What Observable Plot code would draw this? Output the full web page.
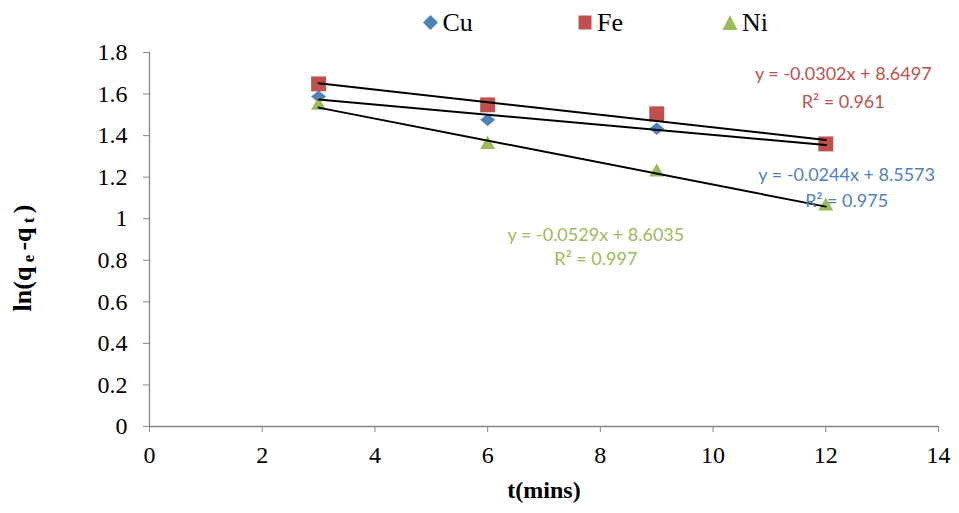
<!DOCTYPE html>
<html><head><meta charset="utf-8">
<script src="https://cdn.jsdelivr.net/npm/d3@7"></script>
<script src="https://cdn.jsdelivr.net/npm/@observablehq/plot@0.6"></script>
<style>
body{margin:0;background:#fff;}
#legend{display:block;}
#chart svg{display:block;}
#chart svg text, #legend text{font-family:'Liberation Serif','Times New Roman',serif !important;}
#chart svg g[aria-label="text"] text{font-family:'Lato',sans-serif !important;}
</style></head><body>
<svg id="legend" width="959" height="40"></svg>
<div id="chart"></div>
<script>
// ---- data ----
const times = [3, 6, 9, 12];
const cuValues = [1.588, 1.476, 1.433, 1.360];
const feValues = [1.649, 1.548, 1.505, 1.360];
const niValues = [1.545, 1.357, 1.224, 1.060];
const seriesNames = ["Cu", "Fe", "Ni"];
const seriesColors = ["#4F81BD", "#C0504D", "#9BBB59"];
const xTicks = [0, 2, 4, 6, 8, 10, 12, 14];
const yTicks = [0, 0.2, 0.4, 0.6, 0.8, 1, 1.2, 1.4, 1.6, 1.8];
const eqTexts = ["y = -0.0244x + 8.5573", "y = -0.0302x + 8.6497", "y = -0.0529x + 8.6035"];
const r2Texts = ["R² = 0.975", "R² = 0.961", "R² = 0.997"];
const eqAnchorX = [12.37, 12.31, 7.92];
const eqAnchorY = [1.208, 1.693, 0.919];
const r2AnchorY = [1.083, 1.561, 0.804];

const seriesValues = [cuValues, feValues, niValues];
const rows = seriesNames.map((s, k) => times.map((t, i) => ({s, t, v: seriesValues[k][i]})));
const labels = seriesNames.map((s, k) => ({s, x: eqAnchorX[k], eq: eqTexts[k], r2: r2Texts[k], ye: eqAnchorY[k], yr: r2AnchorY[k], c: seriesColors[k]}));

const diamond = {draw(ctx, size) { const r = Math.sqrt(size / Math.PI); ctx.moveTo(0, -0.82 * r); ctx.lineTo(r, 0); ctx.lineTo(0, 0.82 * r); ctx.lineTo(-r, 0); ctx.closePath(); }};
const symbols = [diamond, d3.symbolSquare, d3.symbolTriangle];
const radii = [7.5, 8.4, 5.6];

const axisColor = "#868686";

const marks = [
  Plot.ruleY([0], {stroke: axisColor, strokeWidth: 1.3}),
  Plot.ruleX([0], {stroke: axisColor, strokeWidth: 1.3}),
  Plot.axisX({ticks: xTicks, tickSize: 6, tickPadding: 13, label: null, stroke: axisColor, fill: "black", fontSize: 24, tickFormat: d => String(d)}),
  Plot.axisY({ticks: yTicks, tickSize: 6, tickPadding: 16, label: null, stroke: axisColor, fill: "black", fontSize: 24, tickFormat: d => String(+d.toFixed(1))}),
];
rows.forEach((data, k) => {
  marks.push(Plot.dot(data, {x: "t", y: "v", symbol: symbols[k], r: radii[k], fill: seriesColors[k], stroke: "none"}));
});
rows.forEach((data) => {
  marks.push(Plot.linearRegressionY(data, {x: "t", y: "v", stroke: "black", strokeWidth: 2, ci: 0}));
});
marks.push(Plot.text(labels, {x: "x", y: "ye", text: "eq", fill: "c", fontSize: 18}));
marks.push(Plot.text(labels, {x: "x", y: "yr", text: "r2", fill: "c", fontSize: 18}));

const plot = Plot.plot({
  width: 959, height: 473,
  marginLeft: 149, marginRight: 21, marginTop: 12, marginBottom: 87,
  style: {background: "white", overflow: "visible"},
  x: {domain: [0, 14]},
  y: {domain: [0, 1.8]},
  marks
});
document.getElementById("chart").appendChild(plot);

const svg = d3.select(plot);
svg.append("text").attr("x", 544).attr("y", 458).attr("text-anchor", "middle")
  .attr("font-weight", "bold").attr("font-size", 24).attr("fill", "black").text("t(mins)");
const yl = svg.append("text").attr("transform", "translate(31,218) rotate(-90)").attr("text-anchor", "middle")
  .attr("font-weight", "bold").attr("font-size", 26).attr("fill", "black");
yl.append("tspan").text("ln(q");
yl.append("tspan").attr("font-size", 17).attr("dy", 3).text(" e ");
yl.append("tspan").attr("dy", -3).text("-q");
yl.append("tspan").attr("font-size", 17).attr("dy", 3).text(" t ");
yl.append("tspan").attr("dy", -3).text(")");

// legend
const lg = d3.select("#legend");
const legX = [430.5, 585, 730];
seriesNames.forEach((s, k) => {
  const g = lg.append("g").attr("transform", `translate(${legX[k]},22.5)`);
  if (k === 0) g.append("path").attr("d", "M0,-7.5L7.5,0L0,7.5L-7.5,0Z").attr("fill", seriesColors[k]);
  if (k === 1) g.append("rect").attr("x", -6.5).attr("y", -7).attr("width", 13).attr("height", 14).attr("fill", seriesColors[k]);
  if (k === 2) g.append("path").attr("d", "M0,-7.5L7.5,7.5L-7.5,7.5Z").attr("fill", seriesColors[k]);
  g.append("text").attr("x", 12).attr("y", 8).attr("font-size", 26).attr("fill", "black").text(s);
});
</script>
</body></html>
